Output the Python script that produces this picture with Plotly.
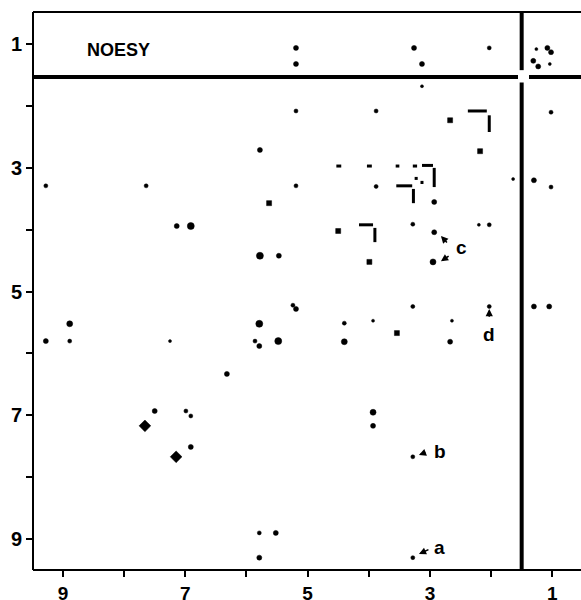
import plotly.graph_objects as go

# ---- peak data (ppm) ----
peak_x = [5.19, 5.19, 3.26, 3.13, 2.03,
          1.26, 1.08, 1.02, 1.31, 1.23, 1.04,
          3.13, 5.19, 3.88, 1.02, 5.78,
          9.28, 7.64, 5.19, 3.88, 1.02, 1.30, 1.64,
          7.14, 6.91, 5.78, 5.47,
          3.28, 2.93, 2.95, 2.20, 2.03,
          5.24, 5.19, 3.28, 2.03, 1.30, 1.05,
          8.89, 5.79, 4.40, 3.93, 2.64,
          9.28, 8.89, 7.25, 5.86, 5.79, 5.48, 4.40, 2.67,
          6.32, 7.50, 6.99, 6.91, 6.91,
          3.93, 3.93, 3.28,
          5.79, 5.52, 5.79, 3.28, 2.93]
peak_y = [1.06, 1.32, 1.06, 1.32, 1.06,
          1.08, 1.06, 1.13, 1.27, 1.36, 1.32,
          1.68, 2.08, 2.08, 2.10, 2.71,
          3.29, 3.29, 3.29, 3.30, 3.31, 3.20, 3.18,
          3.94, 3.94, 4.42, 4.42,
          3.91, 4.04, 4.52, 3.92, 3.92,
          5.22, 5.28, 5.24, 5.24, 5.24, 5.24,
          5.52, 5.52, 5.51, 5.47, 5.47,
          5.80, 5.80, 5.80, 5.80, 5.88, 5.80, 5.81, 5.81,
          6.33, 6.93, 6.93, 7.01, 7.51,
          6.95, 7.17, 7.67,
          8.90, 8.90, 9.30, 9.30, 3.55]
peak_size = [4, 4, 4, 4, 3,
             2, 4, 4, 4, 4, 2,
             2, 3, 3, 3, 4,
             3, 3, 3, 3, 3, 4, 2,
             4, 6, 6, 4,
             3, 4, 5, 2, 3,
             3, 4, 3, 3, 4, 4,
             5, 6, 3, 2, 2,
             4, 3, 2, 3, 4, 6, 5, 4,
             4, 4, 3, 3, 4,
             5, 4, 3,
             3, 4, 4, 3, 4]

# square-shaped peaks
sq_x = [2.67, 2.18, 5.63, 4.50, 3.99, 3.54]
sq_y = [2.23, 2.73, 3.57, 4.02, 4.52, 5.67]

# large diamond-shaped aromatic peaks
dm_x = [7.66, 7.15]
dm_y = [7.17, 7.67]

# diagonal contour fragments (segments)
seg_x0 = [2.38, 2.03, 4.53, 4.03, 3.56, 3.28, 3.13, 2.93, 3.25, 3.13, 3.55, 3.27, 4.16, 3.90]
seg_x1 = [2.07, 2.03, 4.45, 3.95, 3.50, 3.21, 2.95, 2.93, 3.20, 3.13, 3.29, 3.27, 3.93, 3.90]
seg_y0 = [2.08, 2.15, 2.97, 2.97, 2.97, 2.97, 2.96, 3.00, 3.17, 3.21, 3.29, 3.34, 3.92, 3.97]
seg_y1 = [2.08, 2.42, 2.97, 2.97, 2.97, 2.97, 2.96, 3.31, 3.17, 3.26, 3.29, 3.57, 3.92, 4.20]

# t1-noise streaks of the methyl diagonal peak
streak_x0 = [9.49, 1.38, 1.50, 1.50]
streak_x1 = [1.56, 0.53, 1.50, 1.50]
streak_y0 = [1.53, 1.53, 0.48, 1.62]
streak_y1 = [1.53, 1.53, 1.42, 9.50]

# labels with arrows
lab_text = ["a", "b", "c", "d"]
lab_x = [2.85, 2.83, 2.49, 2.03]
lab_y = [9.14, 7.59, 4.28, 5.69]
arr_tail_x = [3.00, 3.05, 2.70, 2.67, 2.03]
arr_tail_y = [9.16, 7.59, 4.23, 4.41, 5.43]
arr_head_x = [3.18, 3.18, 2.82, 2.82, 2.03]
arr_head_y = [9.24, 7.64, 4.10, 4.51, 5.28]

tick_vals = [9, 8, 7, 6, 5, 4, 3, 2, 1]
tick_text = ["9", "", "7", "", "5", "", "3", "", "1"]

FONT = "Liberation Sans, Arial, sans-serif"


def seg_xy(x0, x1, y0, y1):
    xs, ys = [], []
    for a, b, c, d in zip(x0, x1, y0, y1):
        xs += [a, b, None]
        ys += [c, d, None]
    return xs, ys


fig = go.Figure()

sx, sy = seg_xy(streak_x0, streak_x1, streak_y0, streak_y1)
fig.add_trace(go.Scatter(x=sx, y=sy, mode="lines",
                         line=dict(color="black", width=4), hoverinfo="skip"))

gx, gy = seg_xy(seg_x0, seg_x1, seg_y0, seg_y1)
fig.add_trace(go.Scatter(x=gx, y=gy, mode="lines",
                         line=dict(color="black", width=3), hoverinfo="skip"))

fig.add_trace(go.Scatter(x=peak_x, y=peak_y, mode="markers",
                         marker=dict(color="black", size=[s + 1 for s in peak_size], opacity=1,
                                     line=dict(width=0.5, color="black"))))
fig.add_trace(go.Scatter(x=sq_x, y=sq_y, mode="markers",
                         marker=dict(color="black", size=5, symbol="square", opacity=1,
                                     line=dict(width=0.5, color="black"))))
fig.add_trace(go.Scatter(x=dm_x, y=dm_y, mode="markers",
                         marker=dict(color="black", size=9, symbol="diamond", opacity=1,
                                     line=dict(width=0.5, color="black"))))

annotations = []
for t, x, y in zip(lab_text, lab_x, lab_y):
    annotations.append(dict(x=x, y=y, xref="x", yref="y", text=t, showarrow=False,
                            font=dict(size=19, color="black", family=FONT, weight="bold")))
for tx, ty, hx, hy in zip(arr_tail_x, arr_tail_y, arr_head_x, arr_head_y):
    annotations.append(dict(x=hx, y=hy, ax=tx, ay=ty, xref="x", yref="y", axref="x", ayref="y",
                            text="", showarrow=True, arrowhead=2, arrowsize=0.9,
                            arrowwidth=1.6, arrowcolor="black"))
annotations.append(dict(x=8.10, y=1.10, xref="x", yref="y", text="NOESY", showarrow=False,
                        font=dict(size=18, color="black", family=FONT, weight="bold")))

frame = dict(color="black", width=2)
fig.update_layout(
    width=581, height=600,
    margin=dict(l=33, r=0, t=12, b=30, autoexpand=False),
    paper_bgcolor="white", plot_bgcolor="white",
    showlegend=False,
    annotations=annotations,
    font=dict(family=FONT, color="black"),
    shapes=[
        dict(type="line", xref="paper", yref="paper", x0=0, x1=1, y0=1, y1=1, line=frame),
        dict(type="line", xref="paper", yref="paper", x0=0, x1=1, y0=0, y1=0, line=frame),
        dict(type="line", xref="paper", yref="paper", x0=0, x1=0, y0=0, y1=1, line=frame),
    ],
)
fig.update_xaxes(range=[9.49, 0.53], showgrid=False, zeroline=False, automargin=False,
                 showline=False,
                 ticks="outside", ticklen=6, tickwidth=2, tickcolor="black",
                 tickvals=tick_vals, ticktext=tick_text,
                 tickfont=dict(size=19, color="black", weight="bold"))
fig.update_yaxes(range=[9.5, 0.48], showgrid=False, zeroline=False, automargin=False,
                 showline=False,
                 ticks="outside", ticklen=6, tickwidth=2, tickcolor="black",
                 tickvals=tick_vals, ticktext=tick_text,
                 tickfont=dict(size=20, color="black", weight="bold"))

fig.write_html("out.html", config={"displayModeBar": False},
               post_script=("document.documentElement.style.overflow='hidden';"
                            "document.body.style.margin='0';document.body.style.overflow='hidden';"))
